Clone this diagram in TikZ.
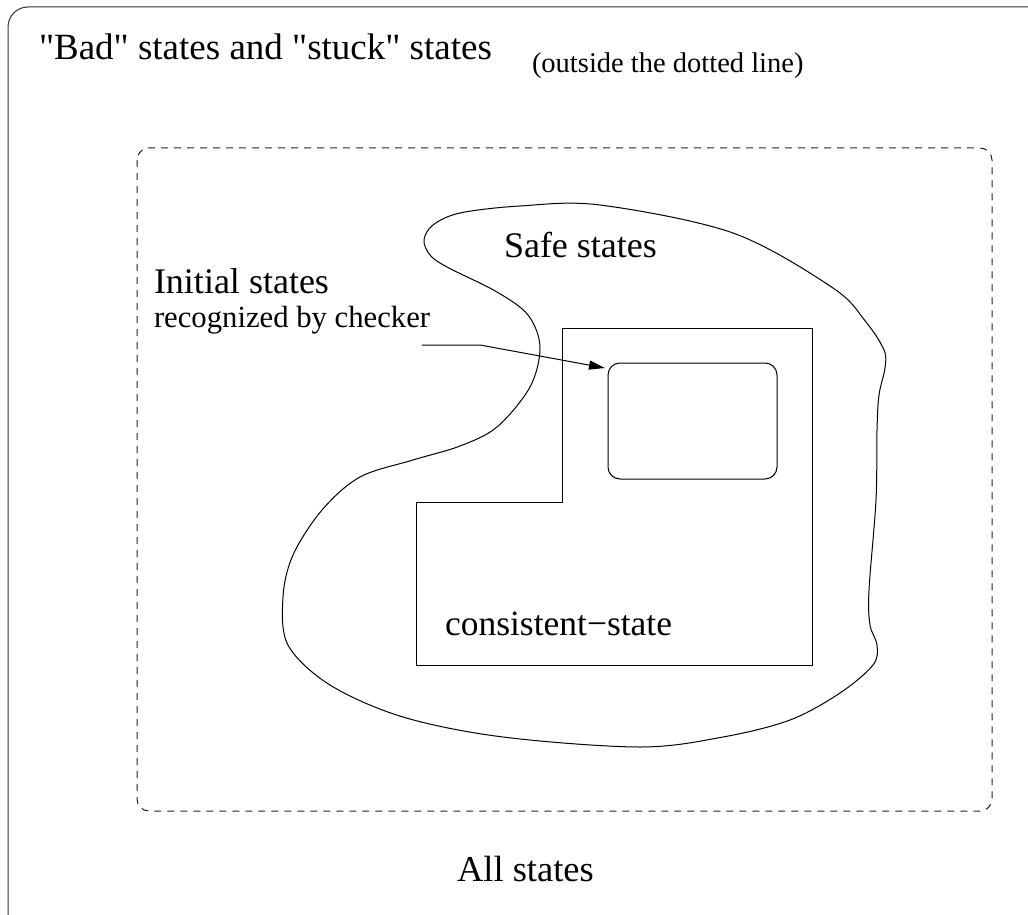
\documentclass[tikz,border=0pt]{standalone}
\usepackage{fontspec}
\setmainfont{Liberation Serif}[Ligatures=TeXOff]
\usetikzlibrary{arrows.meta}
\tikzset{
  txt/.style={inner sep=0pt, outer sep=0pt, anchor=base west,
    font=\fontsize{#1}{#1}\selectfont},
  outline/.style={line width=1pt, draw=black},
  frame/.style={line width=1pt, draw=black!80, rounded corners=20pt},
  dottedframe/.style={line width=1pt, draw=black!85, dash pattern=on 7pt off 6pt,
    rounded corners=12pt},
  pointer/.style={line width=1pt, -{Triangle[length=16pt,width=9pt]}}
}
\begin{document}
\begin{tikzpicture}[x=1pt,y=-1pt]
\useasboundingbox (0,0) rectangle (1028,915);
\clip (0,0) rectangle (1028,915);

% set of all states (runs past the right and bottom page edges)
\draw[frame] (8,7) rectangle (1050,938);

% good states, inside the dotted line
\draw[dottedframe] (137,148) rectangle (992,811);

% safe states region
\draw[outline] plot[smooth cycle, tension=0.55] coordinates {
  (520,206) (600,205) (733,233) (833,288) (866,322) (884,350) (885,368)
  (879,395) (877,430) (876,500) (869,590) (870,625) (877,645) (873,665)
  (840,693) (790,720) (723,737) (640,747) (503,737) (403,717) (330,685)
  (288,645) (283,597) (293,555) (322,510) (360,477) (413,460) (460,446)
  (497,427) (530,387) (540,347) (528,315) (497,292) (447,267) (430,255)
  (424,240) (433,225) (460,213)};

% consistent-state region
\draw[outline] (562,328) -- (812,328) -- (812,665) -- (416,665)
  -- (416,502) -- (562,502) -- cycle;

% initial states recognized by the checker
\node[draw, line width=1pt, rounded corners=12pt, inner sep=0pt, outer sep=0pt,
  minimum width=169pt, minimum height=116pt, anchor=north west]
  (init) at (608,363) {};

% labels
\node[txt=37] (bad) at (39,60) {"Bad" states and "stuck" states};
\node[txt=28.5] (outside) at (532,73) {(outside the dotted line)};
\node[txt=36] (safe) at (504,257) {Safe states};
\node[txt=36] (initial) at (154,293) {Initial states};
\node[txt=30.7] (recog) at (154,327) {recognized by checker};
\node[txt=35.5] (consistent) at (445,635) {consistent−state};
\node[txt=36.5] (all) at (457,881) {All states};

% pointer from the label to the initial-states box
\coordinate (src) at (422,345);
\coordinate (tip) at ([shift={(-3,5)}]init.north west);
\draw[pointer] (src) -- ++(58,0) -- (tip);
\end{tikzpicture}
\end{document}
